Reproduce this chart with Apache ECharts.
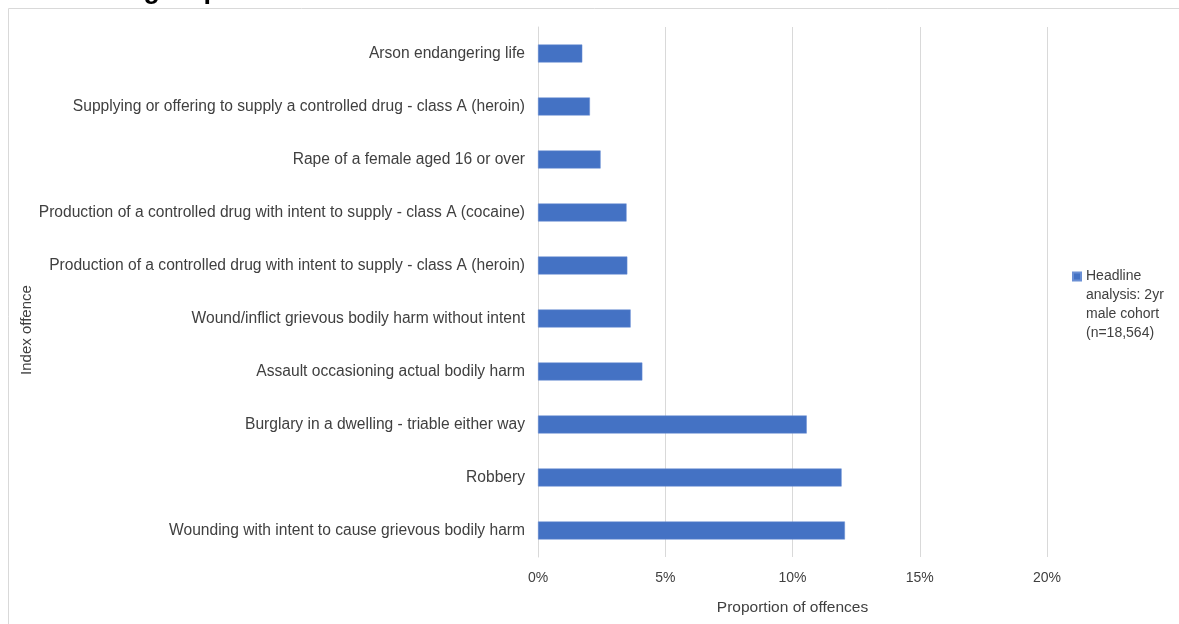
<!DOCTYPE html>
<html>
<head>
<meta charset="utf-8">
<script src="https://cdn.jsdelivr.net/npm/echarts@6/dist/echarts.min.js"></script>
<style>
  html, body { margin: 0; padding: 0; background: #fff; }
  #chart { width: 1179px; height: 624px; }
</style>
</head>
<body>
<div id="chart"></div>
<script>
// offences, top to bottom
var offences = [
  'Arson endangering life',
  'Supplying or offering to supply a controlled drug - class A (heroin)',
  'Rape of a female aged 16 or over',
  'Production of a controlled drug with intent to supply - class A (cocaine)',
  'Production of a controlled drug with intent to supply - class A (heroin)',
  'Wound/inflict grievous bodily harm without intent',
  'Assault occasioning actual bodily harm',
  'Burglary in a dwelling - triable either way',
  'Robbery',
  'Wounding with intent to cause grievous bodily harm'
];
// proportion of offences (%)
var proportions = [1.74, 2.04, 2.46, 3.48, 3.51, 3.64, 4.10, 10.56, 11.93, 12.06];
var seriesName = 'Headline\nanalysis: 2yr\nmale cohort\n(n=18,564)';

var chart = echarts.init(document.getElementById('chart'));
var font = 'Liberation Sans, Arial, sans-serif';

var option = {
  animation: false,
  textStyle: { fontFamily: font },
  // title is cut off by the top edge in the original
  title: {
    text: 'treatment group',
    left: 8,
    top: -28,
    textStyle: { fontSize: 27, fontWeight: 'bold', color: '#000', fontFamily: font }
  },
  graphic: [{
    type: 'rect',
    shape: { x: 8.5, y: 8.5, width: 1200, height: 700 },
    style: { fill: 'none', stroke: '#d9d9d9', lineWidth: 1 },
    silent: true
  }],
  grid: { left: 538, right: 132, top: 27, bottom: 67 },
  legend: {
    data: [seriesName],
    orient: 'vertical',
    left: 1067,
    top: 205,
    itemWidth: 8,
    itemHeight: 8,
    itemGap: 5,
    icon: 'rect',
    // blank lines on top so the icon sits by the first line
    formatter: function (name) { return '\n\n\n' + name; },
    textStyle: { fontSize: 14, color: '#404040', lineHeight: 19, fontFamily: font }
  },
  xAxis: {
    type: 'value',
    min: 0,
    max: 20,
    interval: 5,
    name: 'Proportion of offences',
    nameLocation: 'middle',
    nameGap: 43,
    nameTextStyle: { fontSize: 15.5, color: '#404040' },
    axisLine: { show: false },
    axisTick: { show: false },
    axisLabel: { formatter: '{value}%', fontSize: 14, color: '#404040', margin: 14 },
    splitLine: { lineStyle: { color: '#d9d9d9', width: 1 } }
  },
  yAxis: {
    type: 'category',
    inverse: true,
    data: offences,
    name: 'Index offence',
    nameLocation: 'middle',
    nameGap: 497,
    nameTextStyle: { fontSize: 15, color: '#404040', padding: [0, 76, 0, 0] },
    axisLine: { lineStyle: { color: '#d9d9d9', width: 1 } },
    axisTick: { show: false },
    axisLabel: { fontSize: 15.6, color: '#404040', margin: 13 }
  },
  series: [{
    name: seriesName,
    type: 'bar',
    data: proportions,
    barWidth: 18,
    itemStyle: { color: '#4472C4', borderColor: '#6a8fd4', borderWidth: 0.5 }
  }]
};

chart.setOption(option);
</script>
</body>
</html>
